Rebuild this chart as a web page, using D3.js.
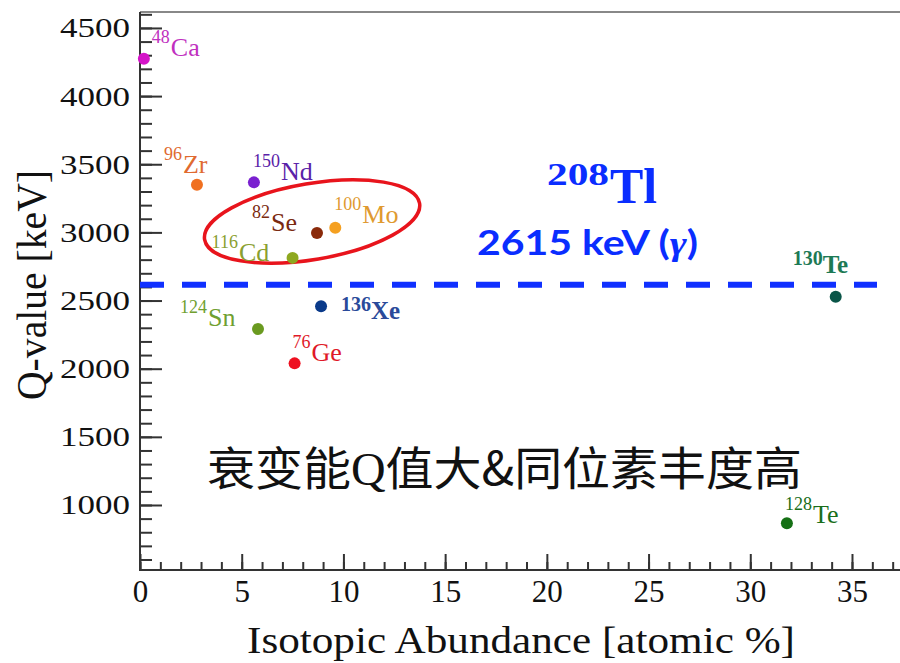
<!DOCTYPE html>
<html>
<head>
<meta charset="utf-8">
<script src="https://cdn.jsdelivr.net/npm/d3@7"></script>
<style>
  body { margin: 0; background: #fff; }
  svg { display: block; }
</style>
</head>
<body>
<div id="chart"></div>
<script>
// ---- data ----
const isotopes = ["Ca", "Zr", "Nd", "Se", "Mo", "Cd", "Xe", "Sn", "Ge", "Te", "Te"];
const massNumbers = ["48", "96", "150", "82", "100", "116", "136", "124", "76", "130", "128"];
const abundance = [0.19, 2.8, 5.6, 8.7, 9.6, 7.5, 8.9, 5.8, 7.6, 34.2, 31.8];   // atomic %
const qValues = [4274, 3350, 3367, 2995, 3034, 2813, 2458, 2291, 2039, 2527, 866]; // keV

const xTicks = [0, 5, 10, 15, 20, 25, 30, 35];
const yTicks = [1000, 1500, 2000, 2500, 3000, 3500, 4000, 4500];
const tlGammaEnergy = 2615;

// ---- styles / label layout ----
const dotColors = ["#d414c8", "#f07020", "#7a20d0", "#8a2a0a", "#f5a020", "#8ea820",
                   "#0a3a8a", "#6a9a20", "#ee1020", "#0a5548", "#157015"];
const textColors = ["#c030c0", "#e06a30", "#5a22a8", "#7a2a10", "#e09a30", "#8aa030",
                    "#2a4a9a", "#70a030", "#e01828", "#1d7a55", "#1a6e1a"];
// offset of label (start of superscript, main baseline) from the dot, px
const labelOffset = [[8, -3], [-33, -12], [-1, -2], [-65, -2], [-1, -5], [-81, 3],
                     [20, 13], [-78, -3], [-2, -2], [-43, -24], [-2, 0]];
const boldLabel = [false, false, false, false, false, false, true, false, false, true, false];

const W = 900, H = 663;
const serif = "'Liberation Serif', 'Times New Roman', serif";

let svg = d3.select("#chart").append("svg")
    .attr("width", W)
    .attr("height", H);

svg.append("rect").attr("width", W).attr("height", H).attr("fill", "#fff");

// scales
let x = d3.scaleLinear().domain([0, 37.36]).range([140, 900]);
let y = d3.scaleLinear().domain([523, 4617]).range([570, 12]);

// frame
svg.append("line")
    .attr("x1", 140).attr("x2", W).attr("y1", 12).attr("y2", 12)
    .attr("stroke", "#888").attr("stroke-width", 2);

// minor ticks
svg.append("g")
    .attr("transform", "translate(140,0)")
    .call(d3.axisLeft(y).tickValues(d3.range(600, 4601, 100)).tickSize(-12).tickFormat(""))
    .call(g => g.select(".domain").remove());
svg.append("g")
    .attr("transform", "translate(0,570)")
    .call(d3.axisBottom(x).tickValues(d3.range(0, 38, 1)).tickSize(-8).tickFormat(""))
    .call(g => g.select(".domain").remove());

// major ticks + labels
let yAxis = svg.append("g")
    .attr("transform", "translate(140,0)")
    .call(d3.axisLeft(y).tickValues(yTicks).tickSize(-22).tickPadding(10).tickFormat(d3.format("d")))
    .call(g => g.select(".domain").remove());
yAxis.selectAll("text")
    .attr("font-family", serif)
    .attr("font-size", 28)
    .attr("fill", "#111")
    .attr("textLength", 70)
    .attr("lengthAdjust", "spacingAndGlyphs");

let xAxis = svg.append("g")
    .attr("transform", "translate(0,570)")
    .call(d3.axisBottom(x).tickValues(xTicks).tickSize(-16).tickPadding(10))
    .call(g => g.select(".domain").remove());
xAxis.selectAll("text")
    .attr("font-family", serif)
    .attr("font-size", 31)
    .attr("fill", "#111");

svg.selectAll(".tick line").attr("stroke", "#333").attr("stroke-width", 2);

// axis lines
svg.append("line")
    .attr("x1", 140).attr("x2", 140).attr("y1", 12).attr("y2", 571)
    .attr("stroke", "#333").attr("stroke-width", 2);
svg.append("line")
    .attr("x1", 139).attr("x2", W).attr("y1", 570).attr("y2", 570)
    .attr("stroke", "#333").attr("stroke-width", 2);

// axis titles
svg.append("text")
    .attr("transform", "translate(46,285) rotate(-90)")
    .attr("text-anchor", "middle")
    .attr("font-family", serif)
    .attr("font-size", 42)
    .attr("fill", "#111")
    .attr("textLength", 230)
    .attr("lengthAdjust", "spacingAndGlyphs")
    .text("Q-value [keV]");

svg.append("text")
    .attr("x", 521).attr("y", 653)
    .attr("text-anchor", "middle")
    .attr("font-family", serif)
    .attr("font-size", 37)
    .attr("fill", "#111")
    .attr("textLength", 548)
    .attr("lengthAdjust", "spacingAndGlyphs")
    .text("Isotopic Abundance [atomic %]");

// 208Tl gamma line
svg.append("line")
    .attr("x1", x(0)).attr("x2", 877)
    .attr("y1", y(tlGammaEnergy)).attr("y2", y(tlGammaEnergy))
    .attr("stroke", "#1030ff")
    .attr("stroke-width", 6)
    .attr("stroke-dasharray", "24,18");

svg.append("text")
    .attr("x", 547).attr("y", 185)
    .attr("font-family", serif).attr("font-weight", "bold")
    .attr("font-size", 32).attr("fill", "#0a2dff")
    .attr("textLength", 62).attr("lengthAdjust", "spacingAndGlyphs")
    .text("208");
svg.append("text")
    .attr("x", 610).attr("y", 203)
    .attr("font-family", serif).attr("font-weight", "bold")
    .attr("font-size", 50).attr("fill", "#0a2dff")
    .text("Tl");

let tlText = svg.append("text")
    .attr("x", 477).attr("y", 255)
    .attr("font-family", "Lato, 'Open Sans', sans-serif").attr("font-weight", "bold")
    .attr("font-size", 34).attr("fill", "#0a2dff")
    .attr("textLength", 221).attr("lengthAdjust", "spacingAndGlyphs");
tlText.append("tspan").text(tlGammaEnergy + " keV (");
tlText.append("tspan").attr("font-style", "italic").attr("font-family", serif).text("γ");
tlText.append("tspan").text(")");

// red ellipse around Se / Mo / Cd
let ellipseCx = x(8.46), ellipseCy = y(3080);
svg.append("ellipse")
    .attr("cx", 0).attr("cy", 0)
    .attr("rx", 109).attr("ry", 38)
    .attr("transform", `translate(${ellipseCx},${ellipseCy}) rotate(-9.6)`)
    .attr("fill", "none")
    .attr("stroke", "#e8141c")
    .attr("stroke-width", 3.5);

// chinese annotation
let cn = svg.append("text")
    .attr("x", 207).attr("y", 485)
    .attr("font-family", "'Noto Sans CJK SC', sans-serif")
    .attr("font-size", 46).attr("fill", "#111")
    .attr("textLength", 595).attr("lengthAdjust", "spacingAndGlyphs");
cn.append("tspan").text("衰变能");
cn.append("tspan").attr("font-family", serif).text("Q");
cn.append("tspan").text("值大&同位素丰度高");

// points
let idx = d3.range(isotopes.length);
svg.append("g").selectAll("circle")
    .data(idx)
    .enter()
    .append("circle")
    .attr("cx", i => x(abundance[i]))
    .attr("cy", i => y(qValues[i]))
    .attr("r", 6)
    .attr("fill", i => dotColors[i]);

// labels
let labels = svg.append("g").selectAll("text")
    .data(idx)
    .enter()
    .append("text")
    .attr("x", i => x(abundance[i]) + labelOffset[i][0])
    .attr("y", i => y(qValues[i]) + labelOffset[i][1])
    .attr("font-family", serif)
    .attr("font-weight", i => boldLabel[i] ? "bold" : "normal")
    .attr("fill", i => textColors[i]);
labels.append("tspan")
    .attr("font-size", i => boldLabel[i] ? 20 : 18)
    .attr("dy", i => boldLabel[i] ? -8 : -13)
    .text(i => massNumbers[i]);
labels.append("tspan")
    .attr("font-size", i => boldLabel[i] ? 25 : 26)
    .attr("dx", i => boldLabel[i] ? 0 : 1)
    .attr("dy", i => boldLabel[i] ? 8 : 13)
    .text(i => isotopes[i]);
</script>
</body>
</html>
